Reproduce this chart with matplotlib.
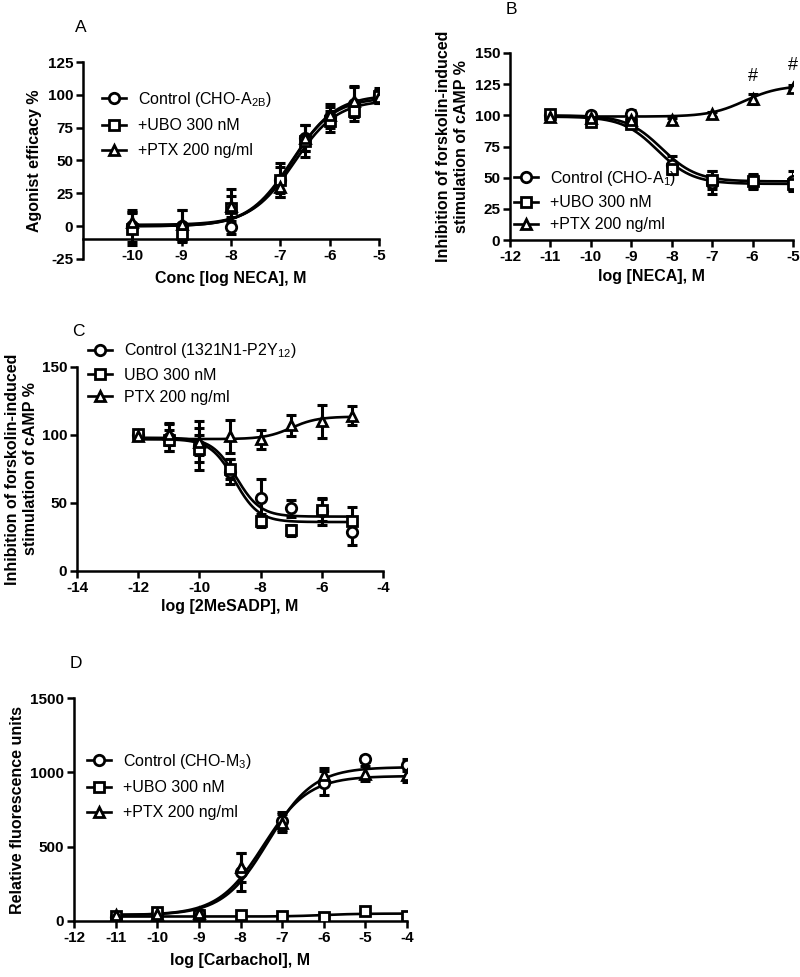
import numpy as np
import matplotlib
matplotlib.use("Agg")
import matplotlib.pyplot as plt

plt.rcParams['font.family'] = ['Liberation Sans', 'DejaVu Sans']
plt.rcParams['mathtext.fontset'] = 'custom'
plt.rcParams['mathtext.rm'] = 'Liberation Sans'
plt.rcParams['mathtext.it'] = 'Liberation Sans:italic'
plt.rcParams['mathtext.bf'] = 'Liberation Sans:bold'
plt.rcParams['axes.unicode_minus'] = False

# ---------------- Data ----------------
# Panel A
a_x = [-10, -9, -8, -7, -6.5, -6, -5.5, -5]
a_ctrl = [0, 0, -1, 35, 67, 83, 93, 100]
a_ctrl_err = [12, 12, 5, 10, 10, 8, 13, 5]
a_ubo = [-2, -6, 14, 35, 65, 80, 88, 99]
a_ubo_err = [12, 5, 14, 13, 12, 8, 5, 5]
a_ptx = [3, 2, 15, 30, 67, 85, 95, 98]
a_ptx_err = [8, 10, 8, 8, 10, 8, 12, 4]
# fit params: bottom, top, logEC50, hill
a_fit_ctrl = [0, 100, -6.75, 1.0]
a_fit_ubo = [1, 96, -6.72, 1.0]
a_fit_ptx = [0, 98, -6.78, 1.0]

# Panel B
b_x = [-11, -10, -9, -8, -7, -6, -5]
b_ctrl = [100, 100, 101, 60, 46, 47, 47]
b_ctrl_err = [3, 3, 3, 7, 9, 6, 8]
b_ubo = [101, 95, 93, 57, 48, 47, 45]
b_ubo_err = [3, 3, 3, 4, 7, 5, 5]
b_ptx = [99, 98, 96, 96, 101, 113, 122]
b_ptx_err = [2, 2, 2, 2, 2, 4, 2]
b_fit_ctrl = [47, 100, -8.25, 1.0]
b_fit_ubo = [45, 99, -8.35, 1.0]
b_fit_ptx = [99, 124, -6.2, 1.0]
b_hash_x = [-6, -5]
b_hash_y = [131, 140]

# Panel C
c_x = [-12, -11, -10, -9, -8, -7, -6, -5]
c_ctrl = [100, 98, 92, 73, 54, 46, 44, 29]
c_ctrl_err = [3, 10, 18, 9, 14, 6, 10, 10]
c_ubo = [101, 96, 90, 75, 37, 30, 45, 37]
c_ubo_err = [3, 8, 10, 7, 5, 4, 8, 10]
c_ptx = [99, 101, 95, 99, 97, 107, 110, 114]
c_ptx_err = [3, 8, 10, 12, 7, 8, 12, 7]
c_fit_ctrl = [40, 98, -8.8, 1.1]
c_fit_ubo = [36, 97, -8.85, 1.1]
c_fit_ptx = [97, 113.5, -7.0, 1.0]

# Panel D
d_x = [-11, -10, -9, -8, -7, -6, -5, -4]
d_ctrl = [30, 50, 50, 330, 670, 930, 1090, 1050]
d_ctrl_err = [10, 10, 10, 130, 60, 80, 20, 40]
d_ubo = [35, 60, 40, 40, 35, 30, 65, 35]
d_ubo_err = [10, 10, 10, 10, 10, 10, 20, 10]
d_ptx = [40, 45, 55, 360, 660, 980, 990, 985]
d_ptx_err = [10, 10, 10, 100, 60, 50, 50, 50]
d_fit_ctrl = [40, 1035, -7.33, 0.8]
d_fit_ubo = [30, 50, -6.0, 1.0]
d_fit_ptx = [40, 975, -7.45, 0.8]


def fourpl(x, p):
    b, t, ec, h = p
    return b + (t - b) / (1 + 10 ** ((ec - x) * h))


def fourpl_inh(x, p):
    b, t, ec, h = p
    return b + (t - b) / (1 + 10 ** ((x - ec) * h))


MS = 7.5
MEW = 2.0
LW = 1.9
TICK_FS = 11
LABEL_FS = 11.5
LEG_FS = 11.5


def plot_series(ax, x, y, err, marker, label, fitx, fity):
    ax.plot(fitx, fity, color='black', lw=LW, zorder=2)
    ax.errorbar(x, y, yerr=err, fmt='none', ecolor='black', elinewidth=2.2,
                capsize=3.5, capthick=2.2, zorder=3)
    ax.plot(x, y, linestyle='none', marker=marker, ms=MS, mfc='white', mec='black',
            mew=MEW, zorder=4)
    # legend proxy
    ax.plot([], [], color='black', lw=LW, marker=marker, ms=MS, mfc='white', mec='black',
            mew=MEW, label=label)


def style_axes(ax):
    for s in ['top', 'right']:
        ax.spines[s].set_visible(False)
    for s in ['left', 'bottom']:
        ax.spines[s].set_linewidth(1.8)
    ax.tick_params(direction='out', length=5, width=1.8, labelsize=TICK_FS, pad=2)
    for lab in ax.get_xticklabels() + ax.get_yticklabels():
        lab.set_fontweight('bold')


fig = plt.figure(figsize=(8, 9.77), dpi=100)

W, H = 800.0, 977.0


def add_ax(l, r, t, b):
    return fig.add_axes([l / W, 1 - b / H, (r - l) / W, (b - t) / H])


legend_kw = dict(frameon=False, fontsize=LEG_FS, handlelength=1.5, handletextpad=0.75,
                 borderaxespad=0, borderpad=0)

# ---------- Panel A ----------
axA = add_ax(83, 379, 62, 259)
fx = np.linspace(-10, -5, 200)
plot_series(axA, a_x, a_ctrl, a_ctrl_err, 'o', 'Control (CHO-A$_{\\mathrm{2B}}$)', fx, fourpl(fx, a_fit_ctrl))
plot_series(axA, a_x, a_ubo, a_ubo_err, 's', '+UBO 300 nM', fx, fourpl(fx, a_fit_ubo))
plot_series(axA, a_x, a_ptx, a_ptx_err, '^', '+PTX 200 ng/ml', fx, fourpl(fx, a_fit_ptx))
axA.set_xlim(-11, -5)
axA.set_ylim(-25, 125)
axA.set_xticks([-10, -9, -8, -7, -6, -5])
axA.set_yticks([-25, 0, 25, 50, 75, 100, 125])
axA.spines['bottom'].set_position(('data', -10))
axA.spines['bottom'].set_bounds(-11, -5)
style_axes(axA)
axA.set_xlabel('Conc [log NECA], M', fontsize=LABEL_FS, fontweight='bold')
axA.xaxis.set_label_coords(0.5, 1 - (278 - 62) / 197.0)
axA.xaxis.label.set_va('center')
axA.set_ylabel('Agonist efficacy %', fontsize=LABEL_FS, fontweight='bold', labelpad=4)
axA.legend(loc='upper left', bbox_to_anchor=(0.065, 0.86), labelspacing=0.62, **legend_kw)
fig.text(75 / W, 1 - 28 / H, 'A', fontsize=12.5, va='center', ha='left')

# ---------- Panel B ----------
axB = add_ax(510, 793, 53, 240)
fx = np.linspace(-11, -5, 200)
plot_series(axB, b_x, b_ctrl, b_ctrl_err, 'o', 'Control (CHO-A$_{\\mathrm{1}}$)', fx, fourpl_inh(fx, b_fit_ctrl))
plot_series(axB, b_x, b_ubo, b_ubo_err, 's', '+UBO 300 nM', fx, fourpl_inh(fx, b_fit_ubo))
plot_series(axB, b_x, b_ptx, b_ptx_err, '^', '+PTX 200 ng/ml', fx, fourpl(fx, b_fit_ptx))
axB.set_xlim(-12, -5)
axB.set_ylim(0, 150)
axB.set_xticks(list(range(-12, -4)))
axB.set_yticks([0, 25, 50, 75, 100, 125, 150])
style_axes(axB)
for hx, hy in zip(b_hash_x, b_hash_y):
    axB.text(hx, hy, '#', fontsize=13, ha='center', va='center', clip_on=False)
axB.set_xlabel('log [NECA], M', fontsize=LABEL_FS, fontweight='bold', labelpad=4)
axB.set_ylabel('Inhibition of forskolin-induced\nstimulation of cAMP %', fontsize=LABEL_FS,
               fontweight='bold', labelpad=4, linespacing=1.25)
axB.legend(loc='upper left', bbox_to_anchor=(0.015, 0.38), labelspacing=0.45, **legend_kw)
fig.text(506 / W, 1 - 10 / H, 'B', fontsize=12.5, va='center', ha='left')

# ---------- Panel C ----------
axC = add_ax(77, 383, 367, 571)
fx = np.linspace(-12, -5, 200)
plot_series(axC, c_x, c_ctrl, c_ctrl_err, 'o', 'Control (1321N1-P2Y$_{\\mathrm{12}}$)', fx, fourpl_inh(fx, c_fit_ctrl))
plot_series(axC, c_x, c_ubo, c_ubo_err, 's', 'UBO 300 nM', fx, fourpl_inh(fx, c_fit_ubo))
plot_series(axC, c_x, c_ptx, c_ptx_err, '^', 'PTX 200 ng/ml', fx, fourpl(fx, c_fit_ptx))
axC.set_xlim(-14, -4)
axC.set_ylim(0, 150)
axC.set_xticks([-14, -12, -10, -8, -6, -4])
axC.set_yticks([0, 50, 100, 150])
style_axes(axC)
axC.set_xlabel('log [2MeSADP], M', fontsize=LABEL_FS, fontweight='bold', labelpad=3)
axC.set_ylabel('Inhibition of forskolin-induced\nstimulation of cAMP %', fontsize=LABEL_FS,
               fontweight='bold', labelpad=3, linespacing=1.25)
axC.legend(loc='upper left', bbox_to_anchor=(0.035, 1.125), labelspacing=0.45, **legend_kw)
fig.text(72 / W, 1 - 332 / H, 'C', fontsize=12.5, va='center', ha='left')

# ---------- Panel D ----------
axD = add_ax(74, 407, 698, 921)
fx = np.linspace(-11, -4, 200)
plot_series(axD, d_x, d_ctrl, d_ctrl_err, 'o', 'Control (CHO-M$_{\\mathrm{3}}$)', fx, fourpl(fx, d_fit_ctrl))
plot_series(axD, d_x, d_ubo, d_ubo_err, 's', '+UBO 300 nM', fx, fourpl(fx, d_fit_ubo))
plot_series(axD, d_x, d_ptx, d_ptx_err, '^', '+PTX 200 ng/ml', fx, fourpl(fx, d_fit_ptx))
axD.set_xlim(-12, -4)
axD.set_ylim(0, 1500)
axD.set_xticks(list(range(-12, -3)))
axD.set_yticks([0, 500, 1000, 1500])
style_axes(axD)
axD.set_xlabel('log [Carbachol], M', fontsize=LABEL_FS, fontweight='bold', labelpad=6)
axD.set_ylabel('Relative fluorescence units', fontsize=LABEL_FS, fontweight='bold', labelpad=4)
axD.legend(loc='upper left', bbox_to_anchor=(0.04, 0.76), labelspacing=0.62, **legend_kw)
fig.text(70 / W, 1 - 663 / H, 'D', fontsize=12.5, va='center', ha='left')

fig.savefig('out.png', dpi=100)
